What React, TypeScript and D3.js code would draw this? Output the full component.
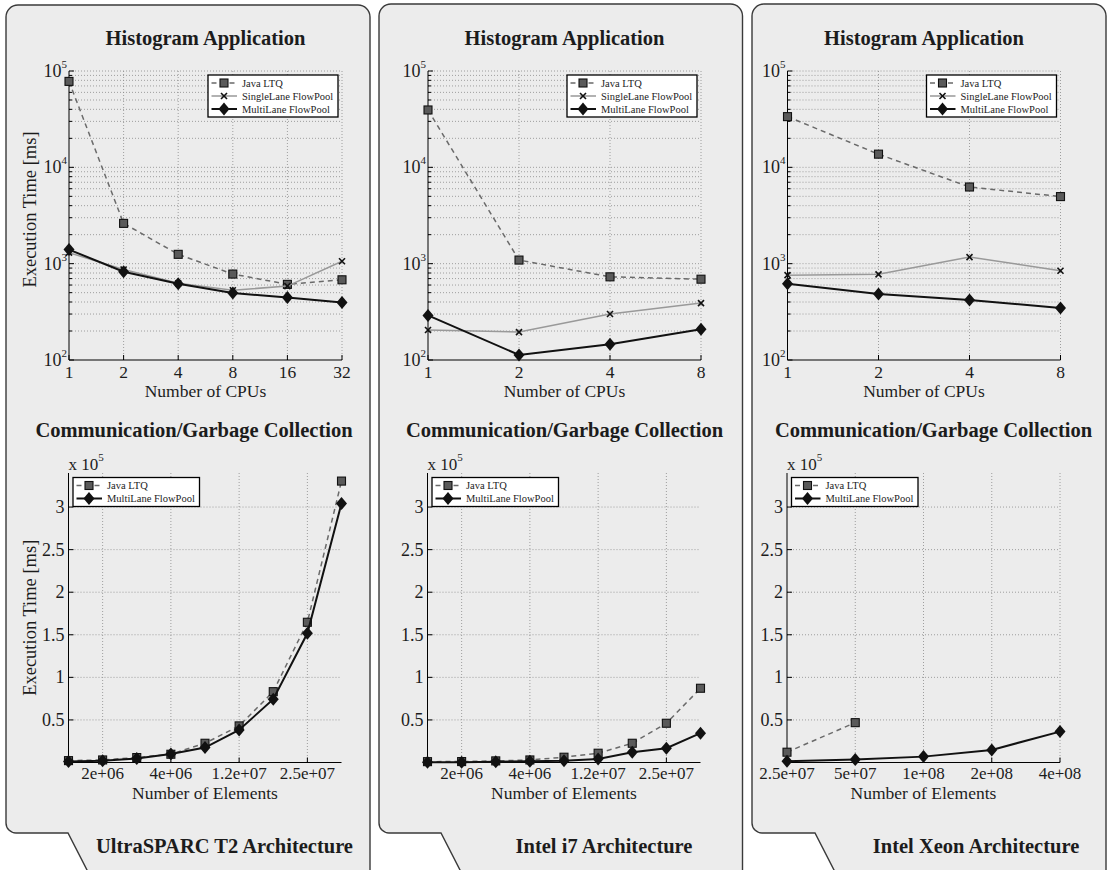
import React from "react";
import * as d3 from "d3";

// ---------------- DATA ----------------
const archNames = ["UltraSPARC T2 Architecture", "Intel i7 Architecture", "Intel Xeon Architecture"];
const seriesNames = ["Java LTQ", "SingleLane FlowPool", "MultiLane FlowPool"];

const cpusUltra = [1, 2, 4, 8, 16, 32];
const cpusI7 = [1, 2, 4, 8];
const cpusXeon = [1, 2, 4, 8];

const histUltraJava = [78000, 2620, 1250, 780, 610, 680];
const histUltraSingle = [1300, 870, 625, 530, 585, 1060];
const histUltraMulti = [1400, 825, 620, 495, 445, 395];

const histI7Java = [39400, 1090, 730, 690];
const histI7Single = [205, 195, 300, 390];
const histI7Multi = [290, 113, 146, 208];

const histXeonJava = [33600, 13700, 6250, 4970];
const histXeonSingle = [760, 775, 1170, 845];
const histXeonMulti = [620, 485, 420, 347];

const logYTicks = [100, 1000, 10000, 100000];

const gcUltraJava = [2200, 3000, 5800, 9700, 22600, 43000, 83200, 164700, 330500];
const gcUltraMulti = [1100, 2200, 4600, 10000, 17500, 38300, 74300, 151700, 304300];
const gcI7Java = [1000, 1100, 1900, 3000, 6200, 10900, 22600, 46100, 87200];
const gcI7Multi = [300, 400, 800, 1500, 2200, 4200, 12100, 16800, 34400];
const gcXeonJava = [12100, 46800];
const gcXeonMulti = [1500, 3400, 6900, 14800, 36300];

const gcTickIdxUltra = [1, 3, 5, 7];
const gcTickLabelsUltra = ["2e+06", "4e+06", "1.2e+07", "2.5e+07"];
const gcTickIdxI7 = [1, 3, 5, 7];
const gcTickLabelsI7 = ["2e+06", "4e+06", "1.2e+07", "2.5e+07"];
const gcTickIdxXeon = [0, 1, 2, 3, 4];
const gcTickLabelsXeon = ["2.5e+07", "5e+07", "1e+08", "2e+08", "4e+08"];
const gcPointCount = [9, 9, 5];

const gcYTicks = [50000, 100000, 150000, 200000, 250000, 300000];
const gcYTickLabels = ["0.5", "1", "1.5", "2", "2.5", "3"];
const gcYMax = 340000;

// ---------------- LAYOUT ----------------
const W = 1110, H = 870;
const FONT = "'Liberation Serif', 'Times New Roman', serif";
const TXT = "#1c1c1c";
const panels = [
  { left: 6, right: 370, top: 5, tabX: 68, axL: 69, titleTop: 205.5, titleBot: 194, arch: 224.5 },
  { left: 379, right: 742.5, top: 4, tabX: 441, axL: 428, titleTop: 564.5, titleBot: 564.5, arch: 604 },
  { left: 752, right: 1106, top: 4, tabX: 815, axL: 787.5, titleTop: 924, titleBot: 933.5, arch: 976 },
];
const AXW = 273;
const TOP_Y0 = 71, TOP_Y1 = 360;
const BOT_Y0 = 473, BOT_Y1 = 762.5;

function panelPath(p: any) {
  const r = 12, rb = 10, yb = 833, yEnd = 884;
  const dx = ((yEnd - yb) * 19) / 37;
  return `M${p.left + r},${p.top} H${p.right - r} A${r},${r} 0 0 1 ${p.right},${p.top + r} V${yEnd - r} A${r},${r} 0 0 1 ${p.right - r},${yEnd} H${p.tabX + dx} L${p.tabX},${yb} H${p.left + rb} A${rb},${rb} 0 0 1 ${p.left},${yb - rb} V${p.top + r} A${r},${r} 0 0 1 ${p.left + r},${p.top} Z`;
}

function Square({ x, y }: any) {
  return <rect x={x - 4} y={y - 4} width={8} height={8} fill="#5a5a5a" stroke="#111" strokeWidth={1.1} />;
}
function Cross({ x, y }: any) {
  return (
    <g stroke="#111" strokeWidth={1.6}>
      <line x1={x - 3} y1={y - 3} x2={x + 3} y2={y + 3} />
      <line x1={x - 3} y1={y + 3} x2={x + 3} y2={y - 3} />
    </g>
  );
}
function Diamond({ x, y }: any) {
  return <path d={`M${x},${y - 6.5} L${x + 5.5},${y} L${x},${y + 6.5} L${x - 5.5},${y} Z`} fill="#111" />;
}

const styles = [
  { stroke: "#6a6a6a", dash: "5,4", width: 1.5, M: Square },
  { stroke: "#999", dash: undefined, width: 1.5, M: Cross },
  { stroke: "#111", dash: undefined, width: 2, M: Diamond },
];

function Legend({ x0, y0, w, rows }: any) {
  const rowH = 13;
  const h = rows.length * rowH + 3;
  return (
    <g>
      <rect x={x0} y={y0} width={w} height={h} fill="#fff" stroke="#000" strokeWidth={1.3} />
      {rows.map((si: number, i: number) => {
        const st = styles[si];
        const yy = y0 + 8 + i * rowH;
        const M = st.M;
        return (
          <g key={si}>
            <line x1={x0 + 3.5} x2={x0 + 29} y1={yy} y2={yy} stroke={st.stroke} strokeWidth={st.width} strokeDasharray={st.dash} />
            <M x={x0 + 16} y={yy} />
            <text x={x0 + 34} y={yy + 3.5} fontSize={10.5} fontFamily={FONT} fill={TXT}>{seriesNames[si]}</text>
          </g>
        );
      })}
    </g>
  );
}

function TopPlot({ p, cpus, series, yLabel }: any) {
  const L = p.axL, R = L + AXW;
  const x = d3.scaleLog().base(2).domain([1, cpus[cpus.length - 1]]).range([L, R]);
  const y = d3.scaleLog().domain([100, 100000]).range([TOP_Y1, TOP_Y0]);
  const minor: number[] = [];
  for (let d = 100; d < 100000; d *= 10) for (let k = 2; k <= 9; k++) minor.push(k * d);
  const line = d3.line<number>().x((_, i) => x(cpus[i])).y((v) => y(v));
  return (
    <g>
      <text x={p.titleTop} y={45} textAnchor="middle" fontSize={20.5} fontWeight="bold" fontFamily={FONT} fill={TXT}>Histogram Application</text>
      <g stroke="#8a8a8a" strokeWidth={0.8} strokeDasharray="1,2">
        {minor.map((m) => <line key={m} x1={L} x2={R} y1={y(m)} y2={y(m)} />)}
        {logYTicks.slice(1).map((m) => <line key={"M" + m} x1={L} x2={R} y1={y(m)} y2={y(m)} />)}
        {cpus.slice(1).map((c: number) => <line key={c} x1={x(c)} x2={x(c)} y1={TOP_Y0} y2={TOP_Y1} />)}
      </g>
      <g stroke="#000" strokeWidth={1}>
        <line x1={L} x2={L} y1={TOP_Y0} y2={TOP_Y1} />
        <line x1={L} x2={R} y1={TOP_Y1} y2={TOP_Y1} />
        {minor.map((m) => <line key={m} x1={L} x2={L + 3} y1={y(m)} y2={y(m)} />)}
        {logYTicks.map((m) => <line key={"t" + m} x1={L} x2={L + 5} y1={y(m)} y2={y(m)} />)}
        {cpus.map((c: number) => <line key={c} x1={x(c)} x2={x(c)} y1={TOP_Y1} y2={TOP_Y1 - 5} />)}
      </g>
      {logYTicks.map((m) => (
        <text key={m} x={L - 2} y={y(m) + 6} textAnchor="end" fontSize={18} fontFamily={FONT} fill={TXT}>
          <tspan>10</tspan>
          <tspan dy={-9} fontSize={11}>{Math.round(Math.log10(m))}</tspan>
        </text>
      ))}
      {cpus.map((c: number) => (
        <text key={c} x={x(c)} y={TOP_Y1 + 17.5} textAnchor="middle" fontSize={17.5} fontFamily={FONT} fill={TXT}>{c}</text>
      ))}
      <text x={(L + R) / 2} y={397} textAnchor="middle" fontSize={17.5} fontFamily={FONT} fill={TXT}>Number of CPUs</text>
      {yLabel && (
        <text transform={`translate(36,${(TOP_Y0 + TOP_Y1) / 2 - 6}) rotate(-90)`} textAnchor="middle" fontSize={18.5} fontFamily={FONT} fill={TXT}>Execution Time [ms]</text>
      )}
      {series.map((vals: number[], si: number) => {
        const st = styles[si];
        const M = st.M;
        return (
          <g key={si}>
            <path d={line(vals) || ""} fill="none" stroke={st.stroke} strokeWidth={st.width} strokeDasharray={st.dash} />
            {vals.map((v, i) => <M key={i} x={x(cpus[i])} y={y(v)} />)}
          </g>
        );
      })}
      <Legend x0={R - 134} y0={75} w={130} rows={[0, 1, 2]} />
    </g>
  );
}

function BottomPlot({ p, n, tickIdx, tickLabels, series, yLabel }: any) {
  const L = p.axL - 0.5, R = L + AXW;
  const x = d3.scalePoint<number>().domain(d3.range(n)).range([L, R]);
  const y = d3.scaleLinear().domain([0, gcYMax]).range([BOT_Y1, BOT_Y0]);
  const line = d3.line<number>().x((_, i) => x(i) as number).y((v) => y(v));
  return (
    <g>
      <text x={p.titleBot} y={437} textAnchor="middle" fontSize={20.5} fontWeight="bold" fontFamily={FONT} fill={TXT}>Communication/Garbage Collection</text>
      <g stroke="#8a8a8a" strokeWidth={0.8} strokeDasharray="1,2">
        {gcYTicks.map((t) => <line key={t} x1={L} x2={R} y1={y(t)} y2={y(t)} />)}
        {tickIdx.filter((i: number) => i > 0).map((i: number) => <line key={i} x1={x(i)} x2={x(i)} y1={BOT_Y0} y2={BOT_Y1} />)}
      </g>
      <g stroke="#000" strokeWidth={1}>
        <line x1={L} x2={L} y1={BOT_Y0} y2={BOT_Y1} />
        <line x1={L} x2={R} y1={BOT_Y1} y2={BOT_Y1} />
        {gcYTicks.map((t) => <line key={t} x1={L} x2={L + 5} y1={y(t)} y2={y(t)} />)}
        {tickIdx.map((i: number) => <line key={i} x1={x(i)} x2={x(i)} y1={BOT_Y1} y2={BOT_Y1 - 5} />)}
      </g>
      {gcYTicks.map((t, i) => (
        <text key={t} x={L - 4} y={y(t) + 6} textAnchor="end" fontSize={18} fontFamily={FONT} fill={TXT}>{gcYTickLabels[i]}</text>
      ))}
      <text x={L} y={470} fontSize={17} fontFamily={FONT} fill={TXT}>
        <tspan>x 10</tspan>
        <tspan dy={-9} fontSize={11}>5</tspan>
      </text>
      {tickIdx.map((i: number, k: number) => (
        <text key={i} x={x(i)} y={779} textAnchor="middle" fontSize={17} fontFamily={FONT} fill={TXT}>{tickLabels[k]}</text>
      ))}
      <text x={(L + R) / 2} y={798.5} textAnchor="middle" fontSize={17.5} fontFamily={FONT} fill={TXT}>Number of Elements</text>
      {yLabel && (
        <text transform={`translate(36,${(BOT_Y0 + BOT_Y1) / 2}) rotate(-90)`} textAnchor="middle" fontSize={18.5} fontFamily={FONT} fill={TXT}>Execution Time [ms]</text>
      )}
      {series.map((vals: number[], k: number) => {
        const si = k === 0 ? 0 : 2;
        const st = styles[si];
        const M = st.M;
        return (
          <g key={k}>
            <path d={line(vals) || ""} fill="none" stroke={st.stroke} strokeWidth={st.width} strokeDasharray={st.dash} />
            {vals.map((v, i) => <M key={i} x={x(i) as number} y={y(v)} />)}
          </g>
        );
      })}
      <Legend x0={L + 4.5} y0={477.5} w={126.5} rows={[0, 2]} />
    </g>
  );
}

export default function App() {
  const topSeries = [
    { cpus: cpusUltra, s: [histUltraJava, histUltraSingle, histUltraMulti] },
    { cpus: cpusI7, s: [histI7Java, histI7Single, histI7Multi] },
    { cpus: cpusXeon, s: [histXeonJava, histXeonSingle, histXeonMulti] },
  ];
  const botSeries = [
    { idx: gcTickIdxUltra, lab: gcTickLabelsUltra, s: [gcUltraJava, gcUltraMulti] },
    { idx: gcTickIdxI7, lab: gcTickLabelsI7, s: [gcI7Java, gcI7Multi] },
    { idx: gcTickIdxXeon, lab: gcTickLabelsXeon, s: [gcXeonJava, gcXeonMulti] },
  ];
  return (
    <svg width={W} height={H} style={{ position: "absolute", left: 0, top: 0, background: "#fff" }}>
      {panels.map((p, i) => (
        <g key={i}>
          <path d={panelPath(p)} fill="#ececec" stroke="#3a3a3a" strokeWidth={1.4} />
          <TopPlot p={p} cpus={topSeries[i].cpus} series={topSeries[i].s} yLabel={i === 0} />
          <BottomPlot p={p} n={gcPointCount[i]} tickIdx={botSeries[i].idx} tickLabels={botSeries[i].lab} series={botSeries[i].s} yLabel={i === 0} />
          <text x={p.arch} y={853} textAnchor="middle" fontSize={20.5} fontWeight="bold" fontFamily={FONT} fill={TXT}>{archNames[i]}</text>
        </g>
      ))}
    </svg>
  );
}
